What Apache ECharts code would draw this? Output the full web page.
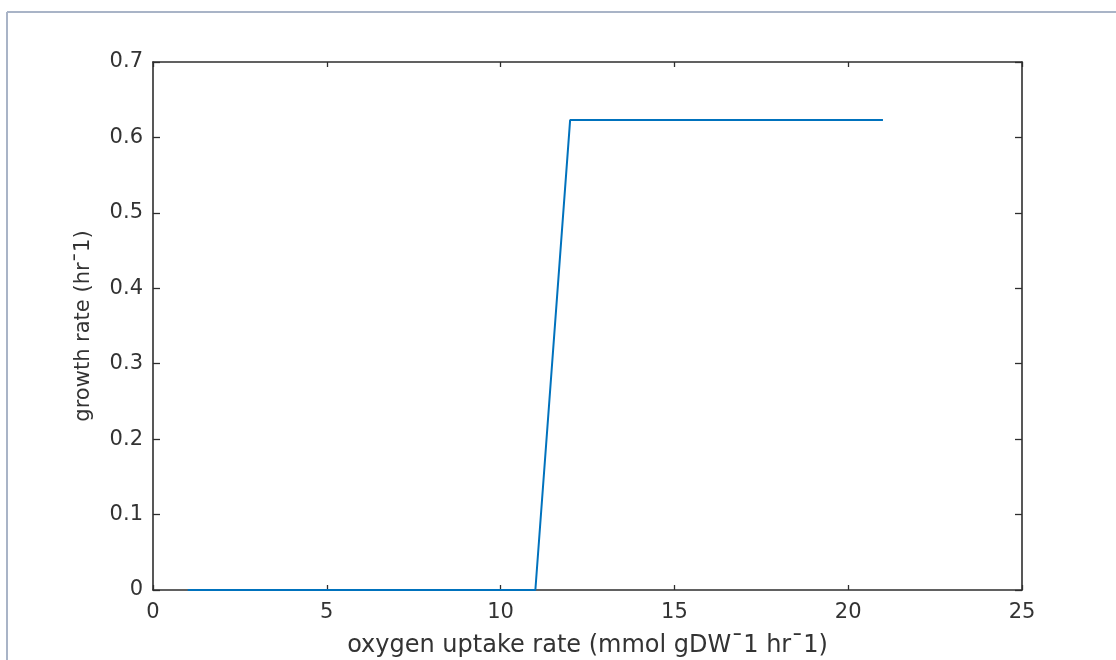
<!DOCTYPE html>
<html>
<head>
<meta charset="utf-8">
<script src="https://cdn.jsdelivr.net/npm/echarts@6/dist/echarts.min.js"></script>
<style>
html,body{margin:0;padding:0;background:#fff;}
#chart{width:1116px;height:660px;}
</style>
</head>
<body>
<div id="chart"></div>
<script>
// Data
const oxygenUptake = [1, 2, 3, 4, 5, 6, 7, 8, 9, 10, 11, 12, 13, 14, 15, 16, 17, 18, 19, 20, 21];
const growthRate   = [0, 0, 0, 0, 0, 0, 0, 0, 0, 0, 0, 0.623, 0.623, 0.623, 0.623, 0.623, 0.623, 0.623, 0.623, 0.623, 0.623];
const xTitle = 'oxygen uptake rate (mmol gDWˉ1 hrˉ1)';
const yTitle = 'growth rate (hrˉ1)';

const FONT = 'DejaVu Sans';
const AXIS_COLOR = '#2e2e2e';
const TEXT_COLOR = '#333333';

const chart = echarts.init(document.getElementById('chart'));

const baseX = {
  type: 'value', min: 0, max: 25, interval: 5,
  splitLine: { show: false },
  axisLine: { show: true, onZero: false, lineStyle: { color: AXIS_COLOR, width: 1.6 } },
  axisTick: { show: true, inside: true, length: 5, lineStyle: { color: AXIS_COLOR, width: 1.3 } }
};
const baseY = {
  type: 'value', min: 0, max: 0.7, interval: 0.1,
  splitLine: { show: false },
  axisLine: { show: true, onZero: false, lineStyle: { color: AXIS_COLOR, width: 1.6 } },
  axisTick: { show: true, inside: true, length: 7, lineStyle: { color: AXIS_COLOR, width: 1.3 } }
};

chart.setOption({
  animation: false,
  backgroundColor: '#ffffff',
  grid: { left: 153, right: 94, top: 62, bottom: 70, containLabel: false, outerBoundsMode: 'none' },
  graphic: [
    { type: 'line', shape: { x1: 7, y1: 12, x2: 1116, y2: 12 }, style: { stroke: '#a9b4c7', lineWidth: 2 } },
    { type: 'line', shape: { x1: 7, y1: 12, x2: 7, y2: 660 }, style: { stroke: '#a9b4c7', lineWidth: 2 } }
  ],
  xAxis: [
    Object.assign({}, baseX, {
      position: 'bottom',
      name: xTitle, nameLocation: 'middle', nameGap: 44,
      nameTextStyle: { fontFamily: FONT, fontSize: 24, color: TEXT_COLOR },
      axisLabel: { show: true, margin: 12, fontFamily: FONT, fontSize: 21, color: TEXT_COLOR }
    }),
    Object.assign({}, baseX, {
      position: 'top',
      axisLabel: { show: false }
    })
  ],
  yAxis: [
    Object.assign({}, baseY, {
      position: 'left',
      name: yTitle, nameLocation: 'middle', nameGap: 59, nameRotate: 90,
      nameTextStyle: { fontFamily: FONT, fontSize: 21, color: TEXT_COLOR },
      axisLabel: { show: true, margin: 10, fontFamily: FONT, fontSize: 21, color: TEXT_COLOR }
    }),
    Object.assign({}, baseY, {
      position: 'right',
      axisLabel: { show: false }
    })
  ],
  series: [{
    type: 'line',
    xAxisIndex: 0, yAxisIndex: 0,
    data: oxygenUptake.map((x, i) => [x, growthRate[i]]),
    showSymbol: false,
    symbol: 'none',
    lineStyle: { color: '#0072BD', width: 2 },
    itemStyle: { color: '#0072BD' }
  }]
});
</script>
</body>
</html>
